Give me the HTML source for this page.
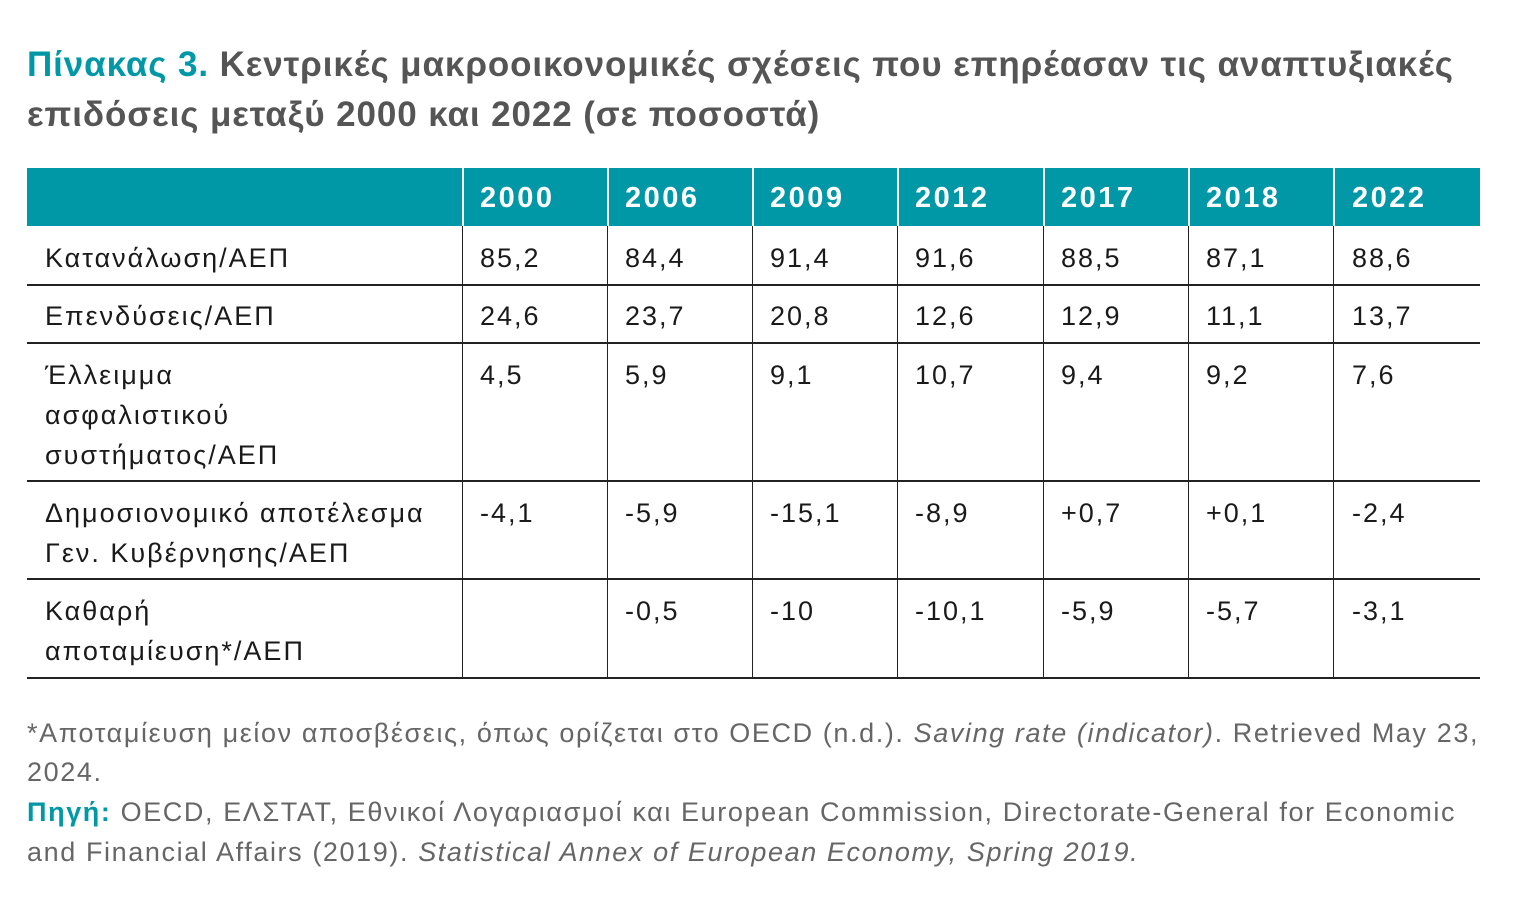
<!DOCTYPE html>
<html><head><meta charset="utf-8"><style>
body{margin:0;width:1519px;height:922px;background:#fff;position:relative;overflow:hidden;font-family:"Liberation Sans","DejaVu Sans",sans-serif;}
.t{position:absolute;left:27px;font-weight:bold;font-size:35px;letter-spacing:0.9px;color:#555;white-space:nowrap;line-height:50px}
.t b{color:#0098a6}
.hdr{position:absolute;left:27px;top:168px;width:1453px;height:58px;background:#0098a6}
.vl{position:absolute;width:1px;background:#222}
.vw{position:absolute;width:2px;background:#fff;top:168px;height:58px}
.hl{position:absolute;left:27px;width:1453px;height:1.5px;background:#222}
.c{position:absolute;font-size:27px;letter-spacing:2px;color:#1a1a1a;line-height:40px;white-space:nowrap}
.h{position:absolute;top:178px;font-size:29px;letter-spacing:2.5px;font-weight:bold;color:#fff;line-height:40px}
.f{position:absolute;left:27px;font-size:27px;letter-spacing:1.6px;color:#666;line-height:40px;white-space:nowrap}
.f b{color:#0098a6}
</style></head><body>
<div class="t" style="top:40px"><b>Πίνακας 3.</b> Κεντρικές μακροοικονομικές σχέσεις που επηρέασαν τις αναπτυξιακές</div>
<div class="t" style="top:90px">επιδόσεις μεταξύ 2000 και 2022 (σε ποσοστά)</div>
<div class="hdr"></div>
<div class="vw" style="left:462px"></div><div class="vw" style="left:607px"></div><div class="vw" style="left:752px"></div><div class="vw" style="left:897px"></div><div class="vw" style="left:1043px"></div><div class="vw" style="left:1188px"></div><div class="vw" style="left:1333px"></div>
<div class="h" style="left:480px">2000</div><div class="h" style="left:625px">2006</div><div class="h" style="left:770px">2009</div><div class="h" style="left:915px">2012</div><div class="h" style="left:1061px">2017</div><div class="h" style="left:1206px">2018</div><div class="h" style="left:1352px">2022</div>
<div class="vl" style="left:462px;top:226px;height:452px"></div><div class="vl" style="left:607px;top:226px;height:452px"></div><div class="vl" style="left:752px;top:226px;height:452px"></div><div class="vl" style="left:897px;top:226px;height:452px"></div><div class="vl" style="left:1043px;top:226px;height:452px"></div><div class="vl" style="left:1188px;top:226px;height:452px"></div><div class="vl" style="left:1333px;top:226px;height:452px"></div>
<div class="hl" style="top:284px"></div><div class="hl" style="top:342px"></div><div class="hl" style="top:480px"></div><div class="hl" style="top:578px"></div><div class="hl" style="top:677px"></div>

<div class="c" style="left:45px;top:238px">Κατανάλωση/ΑΕΠ</div>
<div class="c" style="left:480px;top:238px">85,2</div><div class="c" style="left:625px;top:238px">84,4</div><div class="c" style="left:770px;top:238px">91,4</div><div class="c" style="left:915px;top:238px">91,6</div><div class="c" style="left:1061px;top:238px">88,5</div><div class="c" style="left:1206px;top:238px">87,1</div><div class="c" style="left:1352px;top:238px">88,6</div>

<div class="c" style="left:45px;top:296px">Επενδύσεις/ΑΕΠ</div>
<div class="c" style="left:480px;top:296px">24,6</div><div class="c" style="left:625px;top:296px">23,7</div><div class="c" style="left:770px;top:296px">20,8</div><div class="c" style="left:915px;top:296px">12,6</div><div class="c" style="left:1061px;top:296px">12,9</div><div class="c" style="left:1206px;top:296px">11,1</div><div class="c" style="left:1352px;top:296px">13,7</div>

<div class="c" style="left:45px;top:355px">Έλλειμμα<br>ασφαλιστικού<br>συστήματος/ΑΕΠ</div>
<div class="c" style="left:480px;top:355px">4,5</div><div class="c" style="left:625px;top:355px">5,9</div><div class="c" style="left:770px;top:355px">9,1</div><div class="c" style="left:915px;top:355px">10,7</div><div class="c" style="left:1061px;top:355px">9,4</div><div class="c" style="left:1206px;top:355px">9,2</div><div class="c" style="left:1352px;top:355px">7,6</div>

<div class="c" style="left:45px;top:493px">Δημοσιονομικό αποτέλεσμα<br>Γεν. Κυβέρνησης/ΑΕΠ</div>
<div class="c" style="left:480px;top:493px">-4,1</div><div class="c" style="left:625px;top:493px">-5,9</div><div class="c" style="left:770px;top:493px">-15,1</div><div class="c" style="left:915px;top:493px">-8,9</div><div class="c" style="left:1061px;top:493px">+0,7</div><div class="c" style="left:1206px;top:493px">+0,1</div><div class="c" style="left:1352px;top:493px">-2,4</div>

<div class="c" style="left:45px;top:591px">Καθαρή<br>αποταμίευση*/ΑΕΠ</div>
<div class="c" style="left:625px;top:591px">-0,5</div><div class="c" style="left:770px;top:591px">-10</div><div class="c" style="left:915px;top:591px">-10,1</div><div class="c" style="left:1061px;top:591px">-5,9</div><div class="c" style="left:1206px;top:591px">-5,7</div><div class="c" style="left:1352px;top:591px">-3,1</div>

<div class="f" style="top:713px">*Αποταμίευση μείον αποσβέσεις, όπως ορίζεται στο OECD (n.d.). <i>Saving rate (indicator)</i>. Retrieved May 23,</div>
<div class="f" style="top:752px">2024.</div>
<div class="f" style="top:792px"><b>Πηγή:</b> OECD, ΕΛΣΤΑΤ, Εθνικοί Λογαριασμοί και European Commission, Directorate-General for Economic</div>
<div class="f" style="top:832px">and Financial Affairs (2019). <i>Statistical Annex of European Economy, Spring 2019.</i></div>
</body></html>
